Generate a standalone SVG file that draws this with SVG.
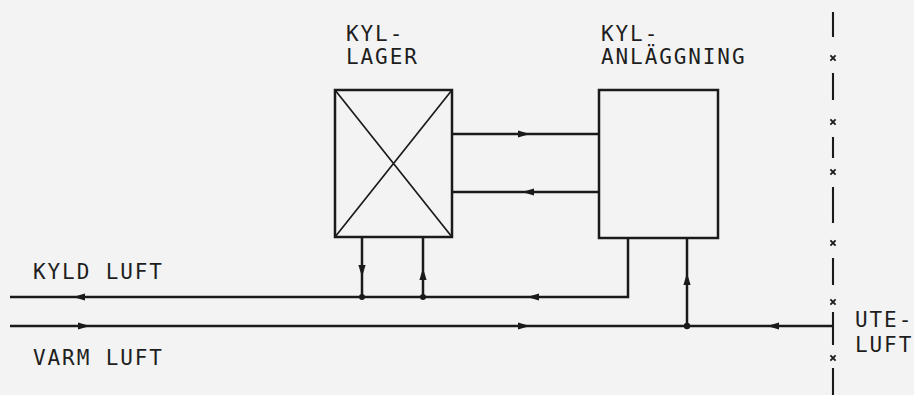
<svg xmlns="http://www.w3.org/2000/svg" width="914" height="395" viewBox="0 0 914 395">
<style>
.ln{fill:none;stroke:#1a1a1a;stroke-width:2.5;stroke-linecap:butt;stroke-linejoin:miter}
.thin{fill:none;stroke:#1a1a1a;stroke-width:1.7}
.ah{fill:#1a1a1a}
.dot{fill:#1a1a1a}
.tx{font-family:"DejaVu Sans Mono","Liberation Mono",monospace;font-size:21px;letter-spacing:1.9px;fill:#1e1e1e}
.bd{fill:none;stroke:#1a1a1a;stroke-width:2.1}
.xk{fill:none;stroke:#1a1a1a;stroke-width:1.8}
</style>
<defs>
<path id="arr" d="M0,0 L-12,-3.6 L-12,3.6 Z"/>
<path id="xm" d="M-2.6,-2.6 L2.6,2.6 M2.6,-2.6 L-2.6,2.6"/>
</defs>
<rect width="914" height="395" fill="#f3f3f3"/>

<g id="kyllager">
<rect class="ln" x="335" y="90" width="117" height="147"/>
<path class="thin" d="M335,90 L452,237 M452,90 L335,237"/>
<text class="tx" x="346" y="41">KYL-</text>
<text class="tx" x="346" y="64">LAGER</text>
</g>

<g id="kylanlaggning">
<rect class="ln" x="599" y="90" width="119" height="148"/>
<text class="tx" x="601" y="41">KYL-</text>
<text class="tx" x="601" y="64">ANLÄGGNING</text>
</g>

<g id="kyldluft">
<text class="tx" x="33" y="279">KYLD LUFT</text>
</g>

<g id="varmluft">
<text class="tx" x="33" y="365">VARM LUFT</text>
</g>

<g id="uteluft">
<text class="tx" x="855" y="327">UTE-</text>
<text class="tx" x="855" y="352">LUFT</text>
</g>

<g id="boundary">
<path class="bd" d="M833,12 V37 M833,73 V100 M833,137 V158 M833,187 V223 M833,258 V285 M833,312 V345 M833,368 V395"/>
<g class="xk">
<use href="#xm" x="833" y="58"/>
<use href="#xm" x="833" y="122"/>
<use href="#xm" x="833" y="172"/>
<use href="#xm" x="833" y="243"/>
<use href="#xm" x="833" y="302"/>
<use href="#xm" x="833" y="358"/>
</g>
</g>

<g id="connectors">
<path class="ln" d="M452,134 H599"/>
<path class="ln" d="M452,192 H599"/>
<path class="ln" d="M10,297 H628 V238"/>
<path class="ln" d="M10,326 H833"/>
<path class="ln" d="M362,237 V297"/>
<path class="ln" d="M423,237 V297"/>
<path class="ln" d="M687,238 V326"/>
<circle class="dot" cx="362" cy="297" r="3"/>
<circle class="dot" cx="423" cy="297" r="3"/>
<circle class="dot" cx="687" cy="326" r="3.2"/>
<g class="ah">
<use href="#arr" transform="translate(530,134)"/>
<use href="#arr" transform="translate(522,192) rotate(180)"/>
<use href="#arr" transform="translate(73,297) rotate(180)"/>
<use href="#arr" transform="translate(527,297) rotate(180)"/>
<use href="#arr" transform="translate(90,326)"/>
<use href="#arr" transform="translate(530,326)"/>
<use href="#arr" transform="translate(767,326) rotate(180)"/>
<use href="#arr" transform="translate(362,277) rotate(90)"/>
<use href="#arr" transform="translate(423,268) rotate(-90)"/>
<use href="#arr" transform="translate(687,273) rotate(-90)"/>
</g>
</g>
</svg>
